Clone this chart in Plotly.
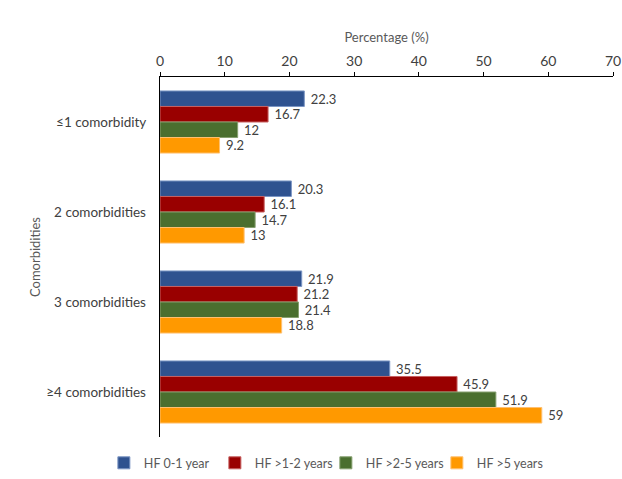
import plotly.graph_objects as go

categories = ["≤1 comorbidity", "2 comorbidities", "3 comorbidities", "≥4 comorbidities"]
series_names = ["HF 0-1 year", "HF >1-2 years", "HF >2-5 years", "HF >5 years"]
hf_0_1 = [22.3, 20.3, 21.9, 35.5]
hf_1_2 = [16.7, 16.1, 21.2, 45.9]
hf_2_5 = [12, 14.7, 21.4, 51.9]
hf_5 = [9.2, 13, 18.8, 59]

colors = ["#2F528F", "#990000", "#4A6F2F", "#FF9900"]
edges = ["#7C96C4", "#C76060", "#86A070", "#FFC070"]
FONT = "Lato"

fig = go.Figure()
for name, vals, col, edge in zip(series_names, [hf_0_1, hf_1_2, hf_2_5, hf_5], colors, edges):
    fig.add_trace(go.Bar(
        y=categories,
        x=vals,
        name=name,
        orientation='h',
        marker=dict(color=col, line=dict(color=edge, width=1)),
        text=[f" {v:g}" for v in vals],
        textposition='outside',
        constraintext='none',
        textfont=dict(family=FONT, size=13, color='#404040'),
        cliponaxis=False,
    ))

fig.update_layout(
    barmode='group',
    bargap=0.31,
    bargroupgap=0,
    width=622,
    height=479,
    margin=dict(l=160, r=9, t=77, b=42),
    plot_bgcolor='white',
    paper_bgcolor='white',
    font=dict(family=FONT, size=13, color='#595959'),
    xaxis=dict(
        side='top',
        range=[0, 70],
        dtick=10,
        automargin=False,
        showgrid=False,
        zeroline=False,
        showline=True,
        linecolor='black',
        linewidth=1,
        ticks='outside',
        ticklen=4,
        tickcolor='black',
        title=dict(text='Percentage (%)', font=dict(family=FONT, size=13, color='#595959'), standoff=6),
        tickfont=dict(family=FONT, size=14, color='#404040'),
    ),
    yaxis=dict(
        autorange='reversed',
        automargin=False,
        showgrid=False,
        showline=True,
        linecolor='black',
        linewidth=1,
        ticks='',
        title=dict(text='Comorbidities', font=dict(family=FONT, size=13, color='#595959'), standoff=2),
        tickfont=dict(family=FONT, size=13.5, color='#404040'),
        ticksuffix='   ',
    ),
    legend=dict(
        orientation='h',
        x=0.167,
        xref='container',
        xanchor='left',
        y=0.033,
        yref='container',
        yanchor='middle',
        font=dict(family=FONT, size=12.5, color='#595959'),
        traceorder='normal',
        itemwidth=30,
        entrywidth=66,
    ),
)

fig.write_html("out.html", config=dict(displayModeBar=False),
               post_script="document.body.style.margin='0px';")
